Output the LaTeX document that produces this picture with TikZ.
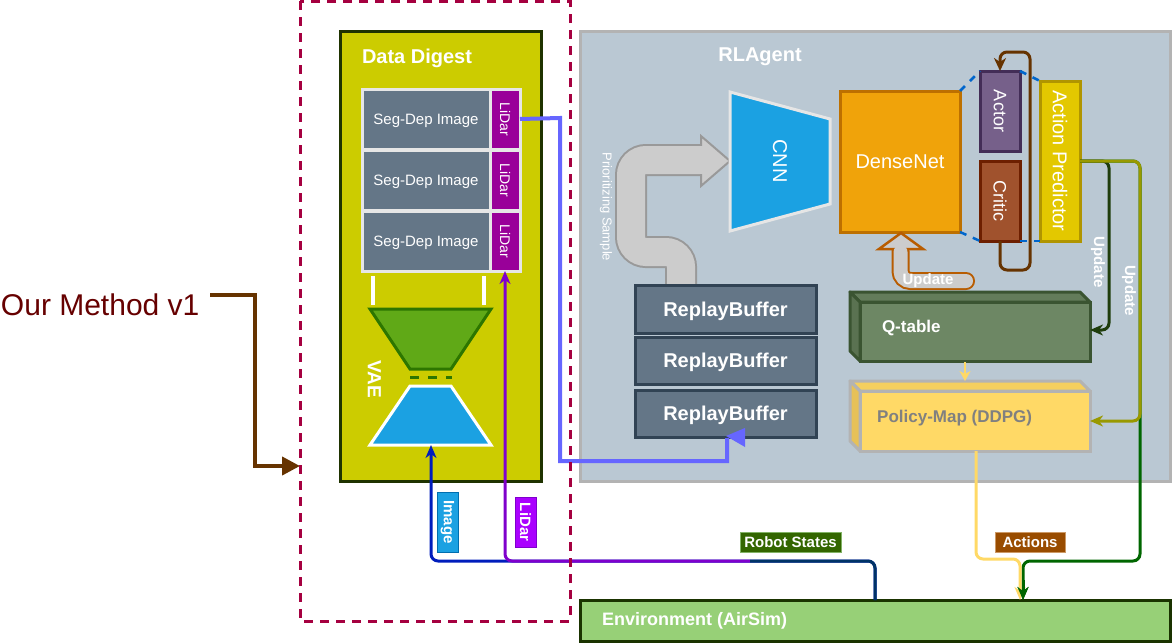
\documentclass[tikz,border=0pt]{standalone}
\usepackage{fontspec}
\setmainfont{Liberation Sans}
\usetikzlibrary{arrows.meta}
\newcommand{\fsz}[1]{\fontsize{#1}{#1}\selectfont}
\definecolor{crimson}{HTML}{A50040}
\definecolor{ddfill}{HTML}{CCCC00}
\definecolor{ddline}{HTML}{1F3300}
\definecolor{segfill}{HTML}{647687}
\definecolor{segline}{HTML}{E6E6E6}
\definecolor{lidfill}{HTML}{990099}
\definecolor{encfill}{HTML}{60A917}
\definecolor{encline}{HTML}{2D7600}
\definecolor{bluefill}{HTML}{1BA1E2}
\definecolor{rlfill}{HTML}{BAC8D3}
\definecolor{rlline}{HTML}{B3B3B3}
\definecolor{rbline}{HTML}{314354}
\definecolor{dnfill}{HTML}{F0A30A}
\definecolor{dnline}{HTML}{BD7000}
\definecolor{acfill}{HTML}{76608A}
\definecolor{acline}{HTML}{432D57}
\definecolor{crfill}{HTML}{A0522D}
\definecolor{crline}{HTML}{6D1F00}
\definecolor{apfill}{HTML}{E3C800}
\definecolor{apline}{HTML}{B09500}
\definecolor{nnblue}{HTML}{0066CC}
\definecolor{loopbrown}{HTML}{663300}
\definecolor{updline}{HTML}{B85C00}
\definecolor{grayfill}{HTML}{CCCCCC}
\definecolor{grayline}{HTML}{999999}
\definecolor{qtfill}{HTML}{6D8764}
\definecolor{qtline}{HTML}{3A5431}
\definecolor{qttop}{HTML}{637C5A}
\definecolor{qtside}{HTML}{5A7251}
\definecolor{pmfill}{HTML}{FFD966}
\definecolor{pmtop}{HTML}{F5CF5E}
\definecolor{pmside}{HTML}{E6C158}
\definecolor{pmtext}{HTML}{808080}
\definecolor{dkgreen}{HTML}{1F3D0C}
\definecolor{olive}{HTML}{999900}
\definecolor{envgreen}{HTML}{006600}
\definecolor{envfill}{HTML}{97D077}
\definecolor{envline}{HTML}{1A3300}
\definecolor{replayline}{HTML}{6666FF}
\definecolor{imgline}{HTML}{001DBC}
\definecolor{imgbox}{HTML}{006EAF}
\definecolor{lidline}{HTML}{7F00CC}
\definecolor{lidbox}{HTML}{AA00FF}
\definecolor{rsline}{HTML}{003366}
\definecolor{rsfill}{HTML}{336600}
\definecolor{rsbox}{HTML}{82B366}
\definecolor{actfill}{HTML}{994C00}
\definecolor{actbox}{HTML}{CC9966}
\definecolor{methodred}{HTML}{660000}
\begin{document}
\begin{tikzpicture}[x=1pt,y=-1pt,
  bx/.style={draw, line width=3pt, inner sep=0pt, outer sep=0pt, text=white},
  lab/.style={inner sep=0pt, outer sep=0pt, text=white},
  segbox/.style={bx, fill=segfill, draw=segline, minimum width=128pt, minimum height=60pt, font=\fsz{15}, text depth=0pt},
  lidbx/.style={bx, fill=lidfill, draw=segline, minimum width=30pt, minimum height=60pt},
  rbbox/.style={bx, fill=segfill, draw=rbline, minimum width=181pt, font=\bfseries\fsz{20}, text depth=0pt},
  conn/.style={line width=3pt, rounded corners=7pt},
  tagbox/.style={draw, line width=1pt, inner sep=0pt, outer sep=0pt, text=white, font=\bfseries\fsz{15}},
  tip/.style={-{Stealth[length=13pt,width=11pt,inset=4pt]}},
]
\useasboundingbox (0,0) rectangle (1172,643);

% ---------- Our Method ----------
\node[inner sep=0pt, outer sep=0pt, anchor=west, text=methodred, font=\fsz{30}] (om) at (1,305) {Our Method v1};
\coordinate (omend) at (300,466);
\draw[loopbrown, line width=4pt, -{Triangle[length=18pt,width=18pt]}] (210,295) -- (255,295) -- (255,466) -- (omend);

% ---------- Data Digest ----------
\node[bx, fill=ddfill, draw=ddline, minimum width=201pt, minimum height=450pt] (dd) at (440.5,256) {};
\node[lab, anchor=west, font=\bfseries\fsz{20}] (ddt) at (362,58) {Data Digest};

\node[segbox] (s1) at (426,119) {Seg-Dep Image};
\node[segbox] (s2) at (426,180) {Seg-Dep Image};
\node[segbox] (s3) at (426,241) {Seg-Dep Image};
\node[lidbx] (l1) at (505,119) {};
\node[lidbx] (l2) at (505,180) {};
\node[lidbx] (l3) at (505,241) {};
\foreach \n in {l1,l2,l3} \node[lab, rotate=-90, font=\fsz{14}] at (\n) {LiDar};

\draw[white, line width=4pt] (373,276) -- (373,305);
\draw[white, line width=4pt] (484,276) -- (484,305);

\draw[fill=encfill, draw=encline, line width=3pt] (370,309) -- (491,309) -- (451,369) -- (410,369) -- cycle;
\draw[encline, line width=3pt, dash pattern=on 9pt off 9pt] (410,377) -- (452,377);
\draw[fill=bluefill, draw=white, line width=3pt] (410,386) -- (451,386) -- (491,445) -- (370,445) -- cycle;
\coordinate (vaeb) at (431,445);
\node[lab, rotate=-90, font=\bfseries\fsz{19}] (vae) at (374.5,379) {VAE};

% ---------- RLAgent ----------
\node[bx, fill=rlfill, draw=rlline, minimum width=590pt, minimum height=450pt] (rl) at (875,256) {};
\node[lab, font=\bfseries\fsz{20}] (rlt) at (760,57) {RLAgent};

% prioritizing sample arrow
\draw[grayline, line width=32pt, rounded corners=15pt] (681,287) -- (681,252) -- (631,252) -- (631,160) -- (703,160);
\draw[grayfill, line width=28pt, rounded corners=15pt] (681,288) -- (681,252) -- (631,252) -- (631,160) -- (703,160);
\draw[fill=grayfill, draw=grayline, line width=2pt, line join=miter] (701,136) -- (730,161) -- (701,186) -- cycle;
\draw[grayfill, line width=28pt] (690,160) -- (703,160);
\node[lab, rotate=-90, font=\fsz{13}] (ps) at (606,207) {Prioritizing Sample};

% CNN
\draw[fill=bluefill, draw=segline, line width=3pt] (730,92) -- (830,119) -- (830,204) -- (730,231) -- cycle;
\node[lab, rotate=-90, font=\fsz{20}] (cnn) at (780,161) {CNN};

% replay buffers
\node[rbbox, minimum height=48pt] (rb1) at (725.5,309) {ReplayBuffer};
\node[rbbox, minimum height=47pt] (rb2) at (725.5,360.5) {ReplayBuffer};
\node[rbbox, minimum height=47pt] (rb3) at (725.5,413.5) {ReplayBuffer};

% DenseNet, Actor, Critic, Action Predictor
\node[bx, fill=dnfill, draw=dnline, minimum width=120pt, minimum height=141pt, font=\fsz{20}] (dn) at (900,161.5) {DenseNet};
\node[bx, fill=acfill, draw=acline, minimum width=40pt, minimum height=80pt] (actor) at (1000,111) {};
\node[lab, rotate=-90, font=\fsz{18}] at (actor) {Actor};
\node[bx, fill=crfill, draw=crline, minimum width=40pt, minimum height=80pt] (critic) at (1000,201) {};
\node[lab, rotate=-90, font=\fsz{18}] at (critic) {Critic};
\node[bx, fill=apfill, draw=apline, minimum width=40pt, minimum height=160pt] (ap) at (1060,161) {};
\node[lab, rotate=-90, font=\fsz{20}] at (ap) {Action Predictor};

\draw[nnblue, line width=2.5pt, dash pattern=on 7pt off 7pt] (dn.north east) -- (actor.north west);
\draw[nnblue, line width=2.5pt, dash pattern=on 7pt off 7pt] (dn.south east) -- (critic.south west);
\draw[nnblue, line width=2.5pt, dash pattern=on 7pt off 7pt] (actor.north east) -- (ap.north west);
\draw[nnblue, line width=2.5pt, dash pattern=on 7pt off 7pt] (critic.south east) -- (ap.south west);

% actor-critic loop
\draw[loopbrown, line width=3pt, rounded corners=7pt, -{Stealth[length=13pt,width=12pt,inset=4pt]}] (critic.south) -- (1000,270) -- (1030,270) -- (1030,52) -- (1000,52) -- (actor.north);

% Update arrow (Q-table -> DenseNet)
\draw[updline, line width=18pt, rounded corners=10pt, line cap=round] (900.5,251) -- (900.5,281) -- (966,281);
\draw[fill=grayfill, draw=updline, line width=2.5pt, line join=miter] (879,249) -- (901,233) -- (923,249) -- cycle;
\draw[grayfill, line width=14pt, rounded corners=10pt, line cap=round] (900.5,252) -- (900.5,281) -- (966,281);
\node[lab, font=\bfseries\fsz{15}] (upd) at (928,281) {Update};

% Q-table (3D)
\node[bx, fill=qtfill, draw=qtline, minimum width=230pt, minimum height=59pt] (qt) at (975,331.5) {};
\draw[fill=qttop, draw=qtline, line width=3pt, line join=round] (850,292) -- (1080,292) -- (1090,302) -- (860,302) -- cycle;
\draw[fill=qtside, draw=qtline, line width=3pt, line join=round] (850,292) -- (860,302) -- (860,361) -- (850,351) -- cycle;
\node[lab, anchor=west, font=\bfseries\fsz{17}] (qtt) at (882,328) {Q-table};

% Policy map (3D)
\node[bx, fill=pmfill, draw=rlline, minimum width=230pt, minimum height=60pt] (pm) at (975,421) {};
\draw[fill=pmtop, draw=rlline, line width=3pt, line join=round] (850,381) -- (1080,381) -- (1090,391) -- (860,391) -- cycle;
\draw[fill=pmside, draw=rlline, line width=3pt, line join=round] (850,381) -- (860,391) -- (860,451) -- (850,441) -- cycle;
\node[inner sep=0pt, anchor=west, text=pmtext, font=\bfseries\fsz{17}] (pmt) at (877,418) {Policy-Map (DDPG)};

\draw[pmfill, line width=2pt, -{Stealth[length=10pt,width=11pt,inset=3pt]}] (965,362) -- (965,381);

% ---------- Environment ----------
\node[bx, fill=envfill, draw=envline, minimum width=590pt, minimum height=41pt] (env) at (875,620.5) {};
\node[lab, anchor=west, font=\bfseries\fsz{18}] (envt) at (602,621) {Environment (AirSim)};

% Action predictor outputs
\draw[envgreen, conn, tip] (ap.east) -- (1140,161) -- (1140,561) -- (1023,561) -- ([xshift=148pt]env.north);
\draw[dkgreen, conn, tip] (ap.east) -- (1109,161) -- (1109,330) -- (qt.east |- 0,330);
\draw[olive, conn, tip] (ap.east) -- (1140,161) -- (1140,421) -- (pm.east);
\node[lab, rotate=-90, font=\bfseries\fsz{15}] (u1) at (1098,262) {Update};
\node[lab, rotate=-90, font=\bfseries\fsz{15}] (u2) at (1129,290.5) {Update};

% actions
\draw[pmfill, conn, tip] (pm.south -| 976,0) -- (976,559) -- (1020,559) -- ([xshift=145pt]env.north);
\draw[envgreen, conn, tip] (1023,580) -- ([xshift=148pt]env.north);

% replay line
\draw[replayline, line width=4pt] (l1.east) -- (560,118) -- (560,461) -- (727,461) -- (727,438);
\fill[replayline] (726,436) -- (745,428) -- (745,447) -- cycle;

% observations
\draw[imgline, conn, tip] (env.north) -- (875,561) -- (431,561) -- (vaeb);
\draw[lidline, conn, tip] (750,561) -- (505,561) -- (l3.south);
\draw[rsline, conn] (env.north) -- (875,561) -- (750,561);

% tags
\node[tagbox, fill=bluefill, draw=imgbox, minimum width=21pt, minimum height=60pt] (timg) at (447.5,522) {};
\node[lab, rotate=-90, font=\bfseries\fsz{15}] at (timg) {Image};
\node[tagbox, fill=lidbox, draw=lidline, minimum width=21pt, minimum height=50pt] (tlid) at (525.5,522) {};
\node[lab, rotate=-90, font=\bfseries\fsz{15}] at (tlid) {LiDar};
\node[tagbox, fill=rsfill, draw=rsbox, minimum width=101pt, minimum height=20pt] (trs) at (790.5,542) {Robot States};
\node[tagbox, fill=actfill, draw=actbox, minimum width=70pt, minimum height=20pt] (tact) at (1030,542) {Actions};

% dashed frame on top
\draw[crimson, line width=3pt, dash pattern=on 9pt off 7pt] (300,1) rectangle (570,621);
\end{tikzpicture}
\end{document}
